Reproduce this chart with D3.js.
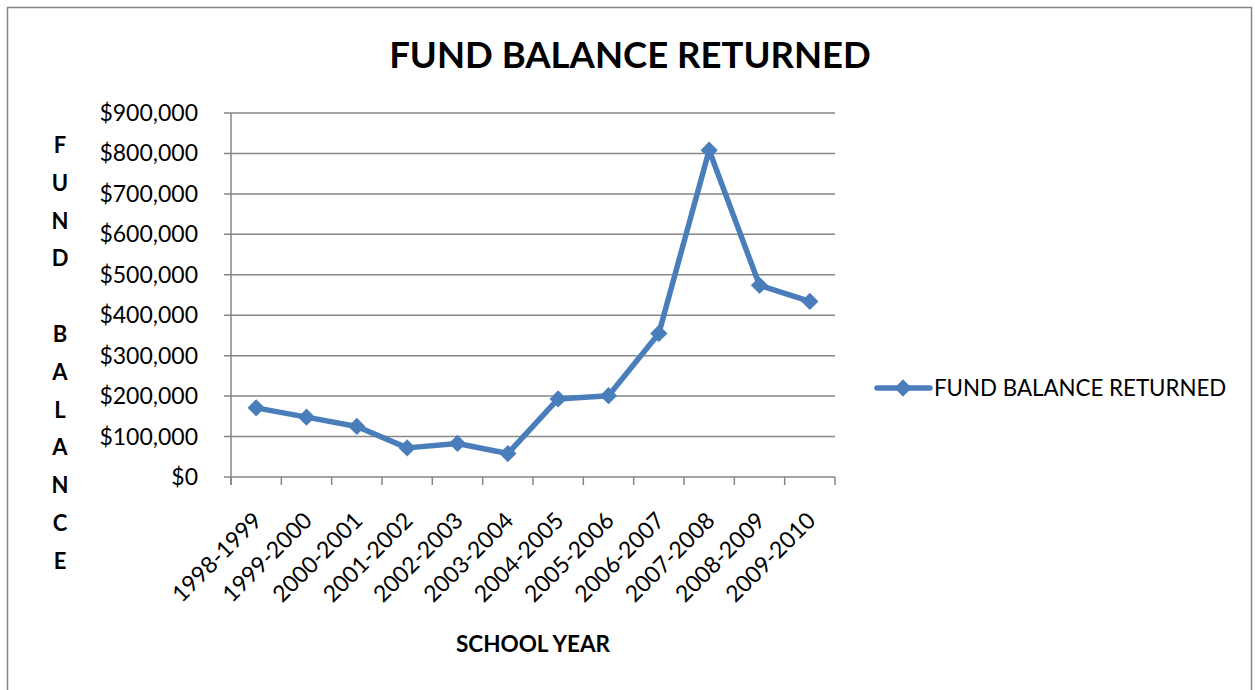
<!DOCTYPE html>
<html>
<head>
<meta charset="utf-8">
<script src="https://cdn.jsdelivr.net/npm/d3@7"></script>
<style>
  body{margin:0;background:#fff;}
  text{font-family:Lato,"Open Sans",sans-serif;fill:#000;}
</style>
</head>
<body>
<script>
var years=["1998-1999","1999-2000","2000-2001","2001-2002","2002-2003","2003-2004",
           "2004-2005","2005-2006","2006-2007","2007-2008","2008-2009","2009-2010"]
var balances=[171000,148000,125000,72000,83000,58000,193000,201000,355000,808000,474000,434000]
var yTicks=[0,100000,200000,300000,400000,500000,600000,700000,800000,900000]
var yTitleLetters=["F","U","N","D","","B","A","L","A","N","C","E"]
var seriesName="FUND BALANCE RETURNED"

var screen={width:1255,height:690}
var margins={top:113,left:231,right:420,bottom:213}
var width=835-margins.left
var height=477-margins.top
var blue="#4a7ebb"
var grid="#868686"

var svg=d3.select("body").append("svg")
          .attr("width",screen.width)
          .attr("height",screen.height)

// outer chart border
svg.append("rect")
   .attr("x",7.5).attr("y",7.5)
   .attr("width",1244).attr("height",700)
   .attr("fill","none").attr("stroke",grid).attr("stroke-width",1.5)

svg.append("text")
   .attr("x",630).attr("y",68)
   .attr("text-anchor","middle")
   .style("font-size","36.5px").style("font-weight","bold")
   .text(seriesName)

var xScale=d3.scaleBand()
             .domain(years)
             .range([0,width])
var yScale=d3.scaleLinear()
             .domain([0,900000])
             .range([height,0])

var plot=svg.append("g")
            .attr("transform","translate("+margins.left+","+margins.top+")")

// gridlines with small left ticks
plot.selectAll("line.grid")
    .data(yTicks)
    .enter()
    .append("line")
    .classed("grid",true)
    .attr("x1",-7).attr("x2",width)
    .attr("y1",function(d){return yScale(d)})
    .attr("y2",function(d){return yScale(d)})
    .attr("stroke",grid).attr("stroke-width",1.5)

plot.append("line")
    .attr("x1",0).attr("x2",0).attr("y1",0).attr("y2",height+8)
    .attr("stroke",grid).attr("stroke-width",1.5)

// x tick marks at band edges
plot.selectAll("line.xtick")
    .data(d3.range(years.length+1))
    .enter()
    .append("line")
    .classed("xtick",true)
    .attr("x1",function(i){return i*xScale.step()})
    .attr("x2",function(i){return i*xScale.step()})
    .attr("y1",height).attr("y2",height+8)
    .attr("stroke",grid).attr("stroke-width",1.5)

plot.selectAll("text.ylab")
    .data(yTicks)
    .enter()
    .append("text")
    .classed("ylab",true)
    .attr("x",-33)
    .attr("y",function(d){return yScale(d)+8})
    .attr("text-anchor","end")
    .style("font-size","23px")
    .text(function(d){return "$"+d3.format(",")(d)})

plot.selectAll("text.xlab")
    .data(years)
    .enter()
    .append("text")
    .classed("xlab",true)
    .attr("text-anchor","end")
    .attr("transform",function(d){
      var x=xScale(d)+xScale.bandwidth()/2+7
      return "translate("+x+","+(height+45)+") rotate(-45)"})
    .style("font-size","23px")
    .text(function(d){return d})

var line=d3.line()
           .x(function(d,i){return xScale(years[i])+xScale.bandwidth()/2})
           .y(function(d){return yScale(d)})

plot.append("path")
    .datum(balances)
    .attr("d",line)
    .attr("fill","none")
    .attr("stroke",blue)
    .attr("stroke-width",5.5)
    .attr("stroke-linejoin","round")

var diamond=d3.symbol().type(d3.symbolDiamond2).size(190)
plot.selectAll("path.pt")
    .data(balances)
    .enter()
    .append("path")
    .classed("pt",true)
    .attr("d",diamond)
    .attr("fill",blue)
    .attr("transform",function(d,i){
      return "translate("+(xScale(years[i])+xScale.bandwidth()/2)+","+yScale(d)+")"})

// y title, stacked letters
svg.selectAll("text.ytitle")
   .data(yTitleLetters)
   .enter()
   .append("text")
   .classed("ytitle",true)
   .attr("x",60)
   .attr("y",function(d,i){return 153+i*37.8})
   .attr("text-anchor","middle")
   .style("font-size","22px").style("font-weight","bold")
   .text(function(d){return d})

svg.append("text")
   .attr("x",533).attr("y",652)
   .attr("text-anchor","middle")
   .style("font-size","22.5px").style("font-weight","bold")
   .text("SCHOOL YEAR")

// legend
var legend=svg.append("g")
              .attr("transform","translate(877,388)")
legend.append("line")
      .attr("x1",0).attr("x2",53).attr("y1",0).attr("y2",0)
      .attr("stroke",blue).attr("stroke-width",5.5).attr("stroke-linecap","round")
legend.append("path")
      .attr("d",diamond)
      .attr("fill",blue)
      .attr("transform","translate(26,0)")
legend.append("text")
      .attr("x",57).attr("y",8)
      .style("font-size","22.3px")
      .text(seriesName)
</script>
</body>
</html>
